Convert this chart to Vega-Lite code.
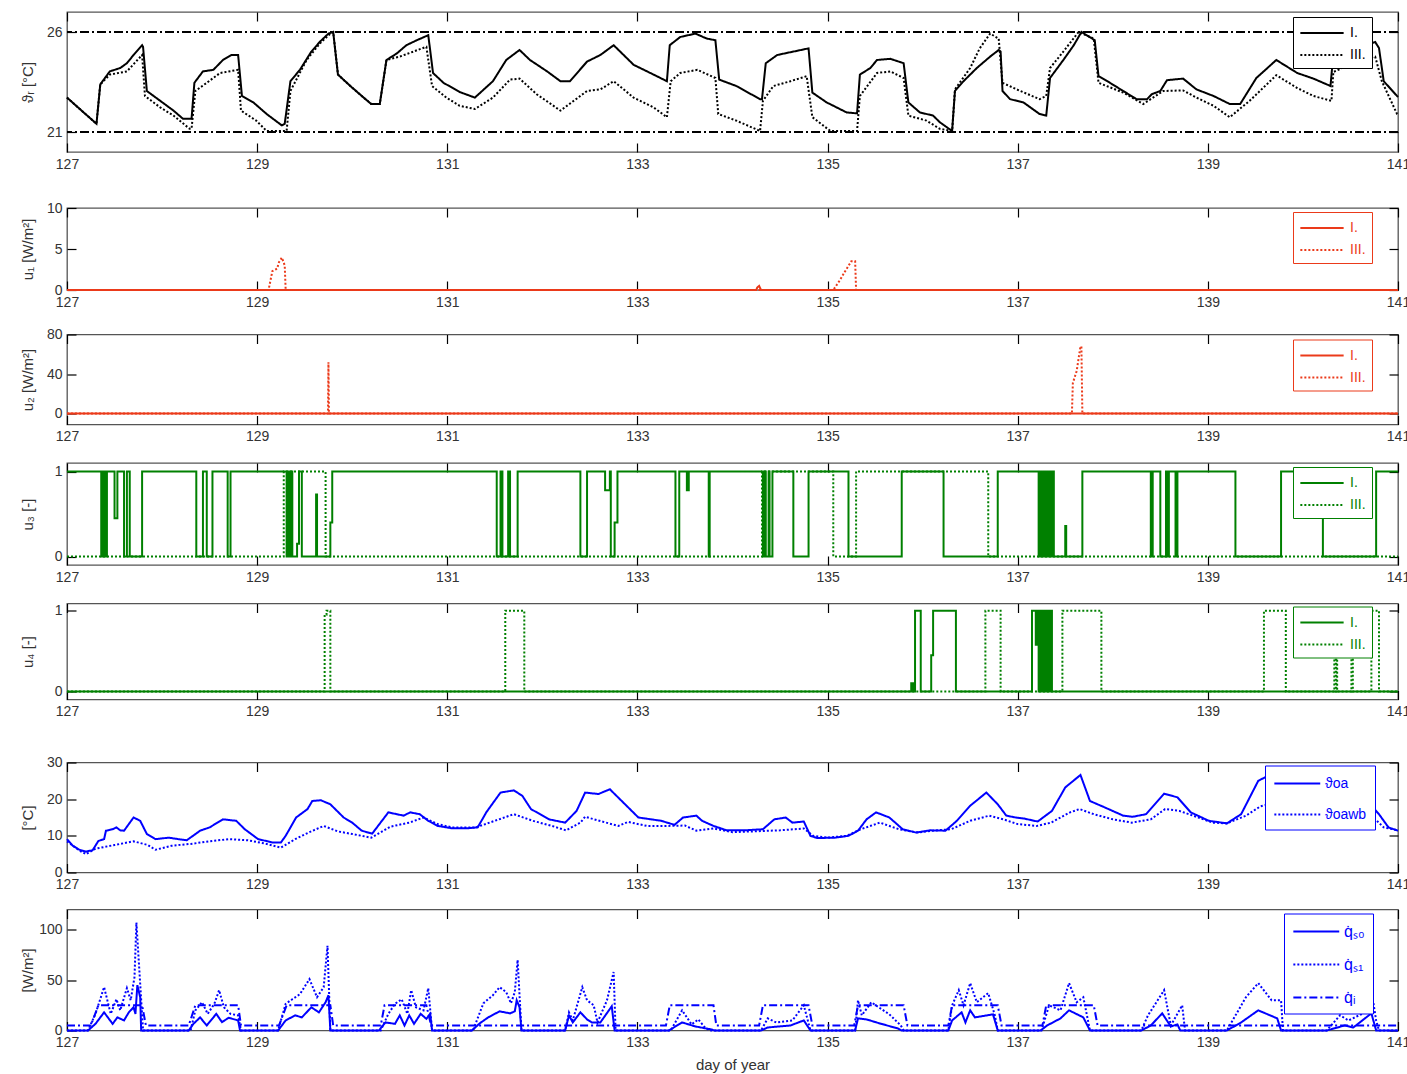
{
"$schema": "https://vega.github.io/schema/vega-lite/v6.json",
"background": "white",
"padding": {"left": 19, "top": 10, "right": 0, "bottom": 0},
"config": {
 "font": "Liberation Sans",
 "view": {"stroke": "#555", "strokeWidth": 1.3},
 "axis": {"grid": false, "domain": false, "labelFont": "Liberation Sans", "labelFontSize": 14, "labelColor": "#333", "tickColor": "#000", "tickSize": -9, "tickWidth": 1.2, "labelPadding": 14, "titleFont": "Liberation Sans", "titleFontSize": 15, "titleFontWeight": "normal", "titleColor": "#333"},
 "axisX": {"labelFlush": false},
 "axisLeft": {"minExtent": 24, "maxExtent": 24, "titlePadding": 8},
 "axisBottom": {"titlePadding": 8},
 "legend": {"title": null, "orient": "none", "symbolType": "M-1,0H4", "symbolSize": 300, "symbolStrokeWidth": 2, "labelFont": "Liberation Sans", "labelFontSize": 14, "fillColor": "#ffffff", "padding": 6, "rowPadding": 5, "labelOffset": 31}
},
"datasets": {
"tr": [
{"d":127.00,"v":22.72,"s":"I."},{"d":127.31,"v":21.41,"s":"I."},{"d":127.35,"v":23.38,"s":"I."},{"d":127.45,"v":24.03,"s":"I."},{"d":127.56,"v":24.2,"s":"I."},{"d":127.63,"v":24.44,"s":"I."},{"d":127.70,"v":24.85,"s":"I."},{"d":127.79,"v":25.34,"s":"I."},{"d":127.80,"v":25.26,"s":"I."},{"d":127.84,"v":23.05,"s":"I."},{"d":127.98,"v":22.56,"s":"I."},{"d":128.12,"v":22.07,"s":"I."},{"d":128.22,"v":21.66,"s":"I."},{"d":128.31,"v":21.66,"s":"I."},{"d":128.34,"v":23.46,"s":"I."},{"d":128.43,"v":24.03,"s":"I."},{"d":128.54,"v":24.11,"s":"I."},{"d":128.64,"v":24.6,"s":"I."},{"d":128.73,"v":24.85,"s":"I."},{"d":128.80,"v":24.85,"s":"I."},{"d":128.84,"v":22.8,"s":"I."},{"d":128.96,"v":22.48,"s":"I."},{"d":129.10,"v":21.9,"s":"I."},{"d":129.26,"v":21.33,"s":"I."},{"d":129.29,"v":21.41,"s":"I."},{"d":129.35,"v":23.54,"s":"I."},{"d":129.45,"v":24.11,"s":"I."},{"d":129.57,"v":25.02,"s":"I."},{"d":129.66,"v":25.51,"s":"I."},{"d":129.75,"v":25.92,"s":"I."},{"d":129.80,"v":26.0,"s":"I."},{"d":129.85,"v":23.87,"s":"I."},{"d":129.98,"v":23.3,"s":"I."},{"d":130.12,"v":22.72,"s":"I."},{"d":130.20,"v":22.4,"s":"I."},{"d":130.29,"v":22.4,"s":"I."},{"d":130.36,"v":24.6,"s":"I."},{"d":130.47,"v":24.93,"s":"I."},{"d":130.57,"v":25.34,"s":"I."},{"d":130.68,"v":25.59,"s":"I."},{"d":130.80,"v":25.84,"s":"I."},{"d":130.85,"v":23.95,"s":"I."},{"d":130.96,"v":23.46,"s":"I."},{"d":131.13,"v":23.0,"s":"I."},{"d":131.29,"v":22.72,"s":"I."},{"d":131.48,"v":23.54,"s":"I."},{"d":131.62,"v":24.6,"s":"I."},{"d":131.76,"v":25.1,"s":"I."},{"d":131.87,"v":24.6,"s":"I."},{"d":132.05,"v":24.03,"s":"I."},{"d":132.19,"v":23.54,"s":"I."},{"d":132.29,"v":23.54,"s":"I."},{"d":132.47,"v":24.52,"s":"I."},{"d":132.61,"v":24.85,"s":"I."},{"d":132.75,"v":25.34,"s":"I."},{"d":132.96,"v":24.36,"s":"I."},{"d":133.17,"v":23.87,"s":"I."},{"d":133.31,"v":23.54,"s":"I."},{"d":133.34,"v":25.34,"s":"I."},{"d":133.45,"v":25.75,"s":"I."},{"d":133.61,"v":25.92,"s":"I."},{"d":133.73,"v":25.67,"s":"I."},{"d":133.82,"v":25.59,"s":"I."},{"d":133.86,"v":23.62,"s":"I."},{"d":134.04,"v":23.3,"s":"I."},{"d":134.29,"v":22.64,"s":"I."},{"d":134.31,"v":22.64,"s":"I."},{"d":134.35,"v":24.44,"s":"I."},{"d":134.47,"v":24.85,"s":"I."},{"d":134.64,"v":25.02,"s":"I."},{"d":134.80,"v":25.18,"s":"I."},{"d":134.84,"v":22.97,"s":"I."},{"d":134.99,"v":22.48,"s":"I."},{"d":135.20,"v":21.98,"s":"I."},{"d":135.31,"v":21.93,"s":"I."},{"d":135.34,"v":23.87,"s":"I."},{"d":135.45,"v":24.2,"s":"I."},{"d":135.52,"v":24.6,"s":"I."},{"d":135.66,"v":24.66,"s":"I."},{"d":135.80,"v":24.44,"s":"I."},{"d":135.85,"v":22.48,"s":"I."},{"d":135.97,"v":21.98,"s":"I."},{"d":136.11,"v":21.82,"s":"I."},{"d":136.18,"v":21.49,"s":"I."},{"d":136.31,"v":21.05,"s":"I."},{"d":136.34,"v":23.05,"s":"I."},{"d":136.43,"v":23.54,"s":"I."},{"d":136.57,"v":24.2,"s":"I."},{"d":136.71,"v":24.77,"s":"I."},{"d":136.80,"v":25.1,"s":"I."},{"d":136.82,"v":25.02,"s":"I."},{"d":136.84,"v":23.05,"s":"I."},{"d":136.92,"v":22.64,"s":"I."},{"d":137.06,"v":22.48,"s":"I."},{"d":137.23,"v":21.9,"s":"I."},{"d":137.30,"v":21.82,"s":"I."},{"d":137.34,"v":23.7,"s":"I."},{"d":137.48,"v":24.6,"s":"I."},{"d":137.59,"v":25.34,"s":"I."},{"d":137.67,"v":26.0,"s":"I."},{"d":137.81,"v":25.59,"s":"I."},{"d":137.85,"v":23.79,"s":"I."},{"d":137.97,"v":23.46,"s":"I."},{"d":138.11,"v":23.05,"s":"I."},{"d":138.25,"v":22.64,"s":"I."},{"d":138.36,"v":22.64,"s":"I."},{"d":138.41,"v":22.89,"s":"I."},{"d":138.50,"v":23.05,"s":"I."},{"d":138.57,"v":23.59,"s":"I."},{"d":138.74,"v":23.67,"s":"I."},{"d":138.88,"v":23.13,"s":"I."},{"d":139.06,"v":22.8,"s":"I."},{"d":139.23,"v":22.4,"s":"I."},{"d":139.34,"v":22.4,"s":"I."},{"d":139.51,"v":23.7,"s":"I."},{"d":139.72,"v":24.6,"s":"I."},{"d":139.94,"v":23.95,"s":"I."},{"d":140.11,"v":23.67,"s":"I."},{"d":140.29,"v":23.3,"s":"I."},{"d":140.32,"v":24.9,"s":"I."},{"d":140.55,"v":25.1,"s":"I."},{"d":140.70,"v":25.4,"s":"I."},{"d":140.76,"v":25.5,"s":"I."},{"d":140.80,"v":25.2,"s":"I."},{"d":140.85,"v":23.54,"s":"I."},{"d":140.99,"v":22.8,"s":"I."},{"d":141.00,"v":22.75,"s":"I."},
{"d":127.00,"v":22.72,"s":"III."},{"d":127.31,"v":21.41,"s":"III."},{"d":127.35,"v":23.38,"s":"III."},{"d":127.45,"v":23.87,"s":"III."},{"d":127.63,"v":24.03,"s":"III."},{"d":127.79,"v":24.85,"s":"III."},{"d":127.82,"v":22.8,"s":"III."},{"d":127.98,"v":22.23,"s":"III."},{"d":128.12,"v":21.82,"s":"III."},{"d":128.29,"v":21.16,"s":"III."},{"d":128.31,"v":21.16,"s":"III."},{"d":128.35,"v":23.05,"s":"III."},{"d":128.47,"v":23.46,"s":"III."},{"d":128.61,"v":23.95,"s":"III."},{"d":128.80,"v":24.11,"s":"III."},{"d":128.83,"v":22.07,"s":"III."},{"d":128.99,"v":21.57,"s":"III."},{"d":129.10,"v":21.05,"s":"III."},{"d":129.31,"v":21.05,"s":"III."},{"d":129.35,"v":23.05,"s":"III."},{"d":129.52,"v":24.6,"s":"III."},{"d":129.66,"v":25.43,"s":"III."},{"d":129.77,"v":25.92,"s":"III."},{"d":129.80,"v":26.0,"s":"III."},{"d":129.85,"v":23.87,"s":"III."},{"d":129.98,"v":23.3,"s":"III."},{"d":130.12,"v":22.72,"s":"III."},{"d":130.20,"v":22.4,"s":"III."},{"d":130.29,"v":22.4,"s":"III."},{"d":130.36,"v":24.6,"s":"III."},{"d":130.50,"v":24.77,"s":"III."},{"d":130.78,"v":25.26,"s":"III."},{"d":130.84,"v":23.3,"s":"III."},{"d":130.99,"v":22.72,"s":"III."},{"d":131.13,"v":22.31,"s":"III."},{"d":131.29,"v":22.15,"s":"III."},{"d":131.48,"v":22.72,"s":"III."},{"d":131.66,"v":23.62,"s":"III."},{"d":131.76,"v":23.67,"s":"III."},{"d":131.94,"v":22.89,"s":"III."},{"d":132.19,"v":22.07,"s":"III."},{"d":132.47,"v":23.05,"s":"III."},{"d":132.61,"v":23.13,"s":"III."},{"d":132.75,"v":23.54,"s":"III."},{"d":132.96,"v":22.72,"s":"III."},{"d":133.17,"v":22.23,"s":"III."},{"d":133.31,"v":21.74,"s":"III."},{"d":133.35,"v":23.54,"s":"III."},{"d":133.45,"v":23.95,"s":"III."},{"d":133.63,"v":24.11,"s":"III."},{"d":133.82,"v":23.7,"s":"III."},{"d":133.85,"v":21.9,"s":"III."},{"d":134.04,"v":21.57,"s":"III."},{"d":134.29,"v":21.05,"s":"III."},{"d":134.32,"v":22.56,"s":"III."},{"d":134.43,"v":23.3,"s":"III."},{"d":134.61,"v":23.54,"s":"III."},{"d":134.78,"v":23.79,"s":"III."},{"d":134.84,"v":21.74,"s":"III."},{"d":135.03,"v":21.05,"s":"III."},{"d":135.31,"v":21.05,"s":"III."},{"d":135.34,"v":22.8,"s":"III."},{"d":135.52,"v":23.95,"s":"III."},{"d":135.66,"v":24.03,"s":"III."},{"d":135.80,"v":23.7,"s":"III."},{"d":135.85,"v":21.82,"s":"III."},{"d":136.04,"v":21.57,"s":"III."},{"d":136.18,"v":21.16,"s":"III."},{"d":136.31,"v":21.05,"s":"III."},{"d":136.34,"v":23.13,"s":"III."},{"d":136.50,"v":24.2,"s":"III."},{"d":136.60,"v":25.18,"s":"III."},{"d":136.71,"v":25.92,"s":"III."},{"d":136.80,"v":25.67,"s":"III."},{"d":136.84,"v":23.46,"s":"III."},{"d":136.99,"v":23.13,"s":"III."},{"d":137.23,"v":22.64,"s":"III."},{"d":137.30,"v":22.8,"s":"III."},{"d":137.34,"v":24.2,"s":"III."},{"d":137.48,"v":25.02,"s":"III."},{"d":137.64,"v":26.0,"s":"III."},{"d":137.80,"v":25.67,"s":"III."},{"d":137.85,"v":23.46,"s":"III."},{"d":138.11,"v":22.97,"s":"III."},{"d":138.32,"v":22.4,"s":"III."},{"d":138.53,"v":23.05,"s":"III."},{"d":138.74,"v":23.08,"s":"III."},{"d":138.88,"v":22.72,"s":"III."},{"d":139.06,"v":22.31,"s":"III."},{"d":139.23,"v":21.74,"s":"III."},{"d":139.44,"v":22.56,"s":"III."},{"d":139.72,"v":23.84,"s":"III."},{"d":139.94,"v":23.2,"s":"III."},{"d":140.11,"v":22.8,"s":"III."},{"d":140.30,"v":22.56,"s":"III."},{"d":140.32,"v":24.0,"s":"III."},{"d":140.60,"v":24.6,"s":"III."},{"d":140.76,"v":24.77,"s":"III."},{"d":140.83,"v":23.54,"s":"III."},{"d":140.99,"v":21.9,"s":"III."},{"d":141.00,"v":21.85,"s":"III."}
],
"u1": [
{"d":127,"v":0,"s":"I."},{"d":134.25,"v":0,"s":"I."},{"d":134.26,"v":0.3,"s":"I."},{"d":134.28,"v":0.5,"s":"I."},{"d":134.3,"v":0,"s":"I."},{"d":141,"v":0,"s":"I."},
{"d":127,"v":0,"s":"III."},{"d":129.12,"v":0,"s":"III."},{"d":129.16,"v":2.3,"s":"III."},{"d":129.21,"v":2.6,"s":"III."},{"d":129.23,"v":3.4,"s":"III."},{"d":129.26,"v":3.95,"s":"III."},{"d":129.29,"v":3.0,"s":"III."},{"d":129.3,"v":0,"s":"III."},{"d":135.06,"v":0,"s":"III."},{"d":135.13,"v":1.2,"s":"III."},{"d":135.18,"v":2.2,"s":"III."},{"d":135.25,"v":3.5,"s":"III."},{"d":135.29,"v":3.5,"s":"III."},{"d":135.3,"v":0,"s":"III."},{"d":141,"v":0,"s":"III."}
],
"u2": [
{"d":127,"v":0,"s":"I."},{"d":141,"v":0,"s":"I."},
{"d":127,"v":0,"s":"III."},{"d":129.745,"v":0,"s":"III."},{"d":129.75,"v":52,"s":"III."},{"d":129.755,"v":0,"s":"III."},{"d":137.57,"v":0,"s":"III."},{"d":137.58,"v":31,"s":"III."},{"d":137.62,"v":43,"s":"III."},{"d":137.66,"v":68,"s":"III."},{"d":137.67,"v":68,"s":"III."},{"d":137.68,"v":0,"s":"III."},{"d":141,"v":0,"s":"III."}
],
"u3": [
{"d":127.0,"v":1,"s":"I."},{"d":127.36,"v":0,"s":"I."},{"d":127.38,"v":1,"s":"I."},{"d":127.40,"v":0,"s":"I."},{"d":127.42,"v":1,"s":"I."},{"d":127.50,"v":0.45,"s":"I."},{"d":127.53,"v":1,"s":"I."},{"d":127.60,"v":0,"s":"I."},{"d":127.63,"v":1,"s":"I."},{"d":127.66,"v":0,"s":"I."},{"d":127.79,"v":1,"s":"I."},{"d":128.36,"v":0,"s":"I."},{"d":128.43,"v":1,"s":"I."},{"d":128.47,"v":0,"s":"I."},{"d":128.53,"v":1,"s":"I."},{"d":128.69,"v":0,"s":"I."},{"d":128.72,"v":1,"s":"I."},{"d":129.31,"v":0,"s":"I."},{"d":129.33,"v":1,"s":"I."},{"d":129.34,"v":0,"s":"I."},{"d":129.36,"v":1,"s":"I."},{"d":129.37,"v":0,"s":"I."},{"d":129.42,"v":0.15,"s":"I."},{"d":129.44,"v":1,"s":"I."},{"d":129.47,"v":0,"s":"I."},{"d":129.62,"v":0.73,"s":"I."},{"d":129.63,"v":0,"s":"I."},{"d":129.77,"v":0.4,"s":"I."},{"d":129.79,"v":1,"s":"I."},{"d":131.52,"v":0,"s":"I."},{"d":131.56,"v":1,"s":"I."},{"d":131.58,"v":0,"s":"I."},{"d":131.64,"v":1,"s":"I."},{"d":131.66,"v":0,"s":"I."},{"d":131.74,"v":1,"s":"I."},{"d":132.40,"v":0,"s":"I."},{"d":132.47,"v":1,"s":"I."},{"d":132.66,"v":0.78,"s":"I."},{"d":132.71,"v":1,"s":"I."},{"d":132.72,"v":0,"s":"I."},{"d":132.76,"v":0.4,"s":"I."},{"d":132.79,"v":1,"s":"I."},{"d":133.40,"v":0,"s":"I."},{"d":133.44,"v":1,"s":"I."},{"d":133.52,"v":0.78,"s":"I."},{"d":133.54,"v":1,"s":"I."},{"d":133.75,"v":0,"s":"I."},{"d":133.76,"v":1,"s":"I."},{"d":134.32,"v":0,"s":"I."},{"d":134.34,"v":1,"s":"I."},{"d":134.35,"v":0,"s":"I."},{"d":134.38,"v":1,"s":"I."},{"d":134.39,"v":0,"s":"I."},{"d":134.42,"v":1,"s":"I."},{"d":134.64,"v":0,"s":"I."},{"d":134.80,"v":1,"s":"I."},{"d":135.22,"v":0,"s":"I."},{"d":135.78,"v":1,"s":"I."},{"d":136.22,"v":0,"s":"I."},{"d":136.79,"v":1,"s":"I."},{"d":137.22,"v":0,"s":"I."},{"d":137.23,"v":1,"s":"I."},{"d":137.245,"v":0,"s":"I."},{"d":137.255,"v":1,"s":"I."},{"d":137.27,"v":0,"s":"I."},{"d":137.28,"v":1,"s":"I."},{"d":137.29,"v":0,"s":"I."},{"d":137.30,"v":1,"s":"I."},{"d":137.31,"v":0,"s":"I."},{"d":137.32,"v":1,"s":"I."},{"d":137.33,"v":0,"s":"I."},{"d":137.35,"v":1,"s":"I."},{"d":137.36,"v":0,"s":"I."},{"d":137.37,"v":1,"s":"I."},{"d":137.38,"v":0,"s":"I."},{"d":137.50,"v":0.36,"s":"I."},{"d":137.51,"v":0,"s":"I."},{"d":137.68,"v":1,"s":"I."},{"d":138.40,"v":0,"s":"I."},{"d":138.42,"v":1,"s":"I."},{"d":138.50,"v":0,"s":"I."},{"d":138.56,"v":1,"s":"I."},{"d":138.58,"v":0,"s":"I."},{"d":138.59,"v":1,"s":"I."},{"d":138.66,"v":0,"s":"I."},{"d":138.68,"v":1,"s":"I."},{"d":139.29,"v":0,"s":"I."},{"d":139.77,"v":1,"s":"I."},{"d":140.21,"v":0,"s":"I."},{"d":140.77,"v":1,"s":"I."},{"d":141.0,"v":1,"s":"I."},
{"d":127.0,"v":0,"s":"III."},{"d":129.28,"v":1,"s":"III."},{"d":129.72,"v":0,"s":"III."},{"d":134.31,"v":1,"s":"III."},{"d":135.06,"v":0,"s":"III."},{"d":135.30,"v":1,"s":"III."},{"d":136.69,"v":0,"s":"III."},{"d":141.0,"v":0,"s":"III."}
],
"u4": [
{"d":127.0,"v":0,"s":"I."},{"d":135.88,"v":0.1,"s":"I."},{"d":135.90,"v":0,"s":"I."},{"d":135.92,"v":1,"s":"I."},{"d":135.98,"v":0,"s":"I."},{"d":136.09,"v":0.45,"s":"I."},{"d":136.11,"v":1,"s":"I."},{"d":136.35,"v":0,"s":"I."},{"d":137.15,"v":1,"s":"I."},{"d":137.19,"v":0.58,"s":"I."},{"d":137.20,"v":1,"s":"I."},{"d":137.22,"v":0,"s":"I."},{"d":137.225,"v":1,"s":"I."},{"d":137.24,"v":0,"s":"I."},{"d":137.245,"v":1,"s":"I."},{"d":137.26,"v":0,"s":"I."},{"d":137.265,"v":1,"s":"I."},{"d":137.28,"v":0,"s":"I."},{"d":137.285,"v":1,"s":"I."},{"d":137.30,"v":0,"s":"I."},{"d":137.305,"v":1,"s":"I."},{"d":137.32,"v":0,"s":"I."},{"d":137.325,"v":1,"s":"I."},{"d":137.34,"v":0,"s":"I."},{"d":137.345,"v":1,"s":"I."},{"d":137.36,"v":0,"s":"I."},{"d":141.0,"v":0,"s":"I."},
{"d":127.0,"v":0,"s":"III."},{"d":129.71,"v":0.95,"s":"III."},{"d":129.73,"v":1,"s":"III."},{"d":129.77,"v":0,"s":"III."},{"d":131.61,"v":1,"s":"III."},{"d":131.81,"v":0,"s":"III."},{"d":136.66,"v":1,"s":"III."},{"d":136.82,"v":0,"s":"III."},{"d":137.47,"v":1,"s":"III."},{"d":137.88,"v":0,"s":"III."},{"d":139.59,"v":1,"s":"III."},{"d":139.82,"v":0,"s":"III."},{"d":140.33,"v":1,"s":"III."},{"d":140.345,"v":0,"s":"III."},{"d":140.35,"v":1,"s":"III."},{"d":140.36,"v":0,"s":"III."},{"d":140.51,"v":1,"s":"III."},{"d":140.525,"v":0,"s":"III."},{"d":140.72,"v":1,"s":"III."},{"d":140.80,"v":0,"s":"III."},{"d":141.0,"v":0,"s":"III."}
],
"ta": [
{"d":127.00,"v":9.1,"s":"ϑoa"},{"d":127.06,"v":7.3,"s":"ϑoa"},{"d":127.13,"v":6.2,"s":"ϑoa"},{"d":127.20,"v":5.7,"s":"ϑoa"},{"d":127.27,"v":6.1,"s":"ϑoa"},{"d":127.33,"v":8.6,"s":"ϑoa"},{"d":127.39,"v":9.1,"s":"ϑoa"},{"d":127.41,"v":11.4,"s":"ϑoa"},{"d":127.48,"v":11.8,"s":"ϑoa"},{"d":127.52,"v":12.3,"s":"ϑoa"},{"d":127.56,"v":11.5,"s":"ϑoa"},{"d":127.60,"v":11.4,"s":"ϑoa"},{"d":127.70,"v":15.0,"s":"ϑoa"},{"d":127.77,"v":14.1,"s":"ϑoa"},{"d":127.84,"v":10.5,"s":"ϑoa"},{"d":127.93,"v":9.1,"s":"ϑoa"},{"d":128.07,"v":9.5,"s":"ϑoa"},{"d":128.17,"v":9.1,"s":"ϑoa"},{"d":128.26,"v":8.8,"s":"ϑoa"},{"d":128.40,"v":11.4,"s":"ϑoa"},{"d":128.50,"v":12.3,"s":"ϑoa"},{"d":128.64,"v":14.5,"s":"ϑoa"},{"d":128.78,"v":14.1,"s":"ϑoa"},{"d":128.87,"v":11.8,"s":"ϑoa"},{"d":129.01,"v":9.1,"s":"ϑoa"},{"d":129.16,"v":8.2,"s":"ϑoa"},{"d":129.25,"v":8.2,"s":"ϑoa"},{"d":129.30,"v":10.0,"s":"ϑoa"},{"d":129.41,"v":15.0,"s":"ϑoa"},{"d":129.53,"v":17.3,"s":"ϑoa"},{"d":129.58,"v":19.5,"s":"ϑoa"},{"d":129.67,"v":19.7,"s":"ϑoa"},{"d":129.77,"v":18.6,"s":"ϑoa"},{"d":129.91,"v":15.0,"s":"ϑoa"},{"d":130.00,"v":13.6,"s":"ϑoa"},{"d":130.10,"v":11.4,"s":"ϑoa"},{"d":130.21,"v":10.6,"s":"ϑoa"},{"d":130.38,"v":16.4,"s":"ϑoa"},{"d":130.47,"v":15.9,"s":"ϑoa"},{"d":130.54,"v":15.5,"s":"ϑoa"},{"d":130.61,"v":16.4,"s":"ϑoa"},{"d":130.71,"v":15.9,"s":"ϑoa"},{"d":130.80,"v":14.1,"s":"ϑoa"},{"d":130.90,"v":12.7,"s":"ϑoa"},{"d":131.04,"v":12.1,"s":"ϑoa"},{"d":131.23,"v":12.1,"s":"ϑoa"},{"d":131.32,"v":12.3,"s":"ϑoa"},{"d":131.41,"v":16.4,"s":"ϑoa"},{"d":131.56,"v":21.8,"s":"ϑoa"},{"d":131.70,"v":22.4,"s":"ϑoa"},{"d":131.79,"v":20.9,"s":"ϑoa"},{"d":131.88,"v":17.3,"s":"ϑoa"},{"d":132.07,"v":14.5,"s":"ϑoa"},{"d":132.24,"v":13.6,"s":"ϑoa"},{"d":132.36,"v":16.8,"s":"ϑoa"},{"d":132.45,"v":21.8,"s":"ϑoa"},{"d":132.59,"v":21.4,"s":"ϑoa"},{"d":132.71,"v":22.7,"s":"ϑoa"},{"d":132.87,"v":18.6,"s":"ϑoa"},{"d":133.01,"v":15.0,"s":"ϑoa"},{"d":133.25,"v":14.1,"s":"ϑoa"},{"d":133.39,"v":13.0,"s":"ϑoa"},{"d":133.48,"v":15.0,"s":"ϑoa"},{"d":133.62,"v":15.5,"s":"ϑoa"},{"d":133.68,"v":14.1,"s":"ϑoa"},{"d":133.80,"v":12.7,"s":"ϑoa"},{"d":133.94,"v":11.5,"s":"ϑoa"},{"d":134.13,"v":11.5,"s":"ϑoa"},{"d":134.32,"v":11.8,"s":"ϑoa"},{"d":134.44,"v":14.5,"s":"ϑoa"},{"d":134.56,"v":15.0,"s":"ϑoa"},{"d":134.63,"v":13.6,"s":"ϑoa"},{"d":134.75,"v":13.9,"s":"ϑoa"},{"d":134.82,"v":10.0,"s":"ϑoa"},{"d":134.89,"v":9.4,"s":"ϑoa"},{"d":135.08,"v":9.5,"s":"ϑoa"},{"d":135.22,"v":10.0,"s":"ϑoa"},{"d":135.32,"v":11.4,"s":"ϑoa"},{"d":135.41,"v":14.5,"s":"ϑoa"},{"d":135.51,"v":16.4,"s":"ϑoa"},{"d":135.65,"v":15.0,"s":"ϑoa"},{"d":135.79,"v":11.8,"s":"ϑoa"},{"d":135.93,"v":10.9,"s":"ϑoa"},{"d":136.08,"v":11.5,"s":"ϑoa"},{"d":136.24,"v":11.4,"s":"ϑoa"},{"d":136.36,"v":14.1,"s":"ϑoa"},{"d":136.50,"v":18.2,"s":"ϑoa"},{"d":136.67,"v":21.8,"s":"ϑoa"},{"d":136.79,"v":18.6,"s":"ϑoa"},{"d":136.88,"v":15.5,"s":"ϑoa"},{"d":136.98,"v":15.0,"s":"ϑoa"},{"d":137.07,"v":14.7,"s":"ϑoa"},{"d":137.21,"v":13.9,"s":"ϑoa"},{"d":137.36,"v":16.8,"s":"ϑoa"},{"d":137.50,"v":23.2,"s":"ϑoa"},{"d":137.66,"v":26.6,"s":"ϑoa"},{"d":137.76,"v":19.5,"s":"ϑoa"},{"d":137.92,"v":17.7,"s":"ϑoa"},{"d":138.11,"v":15.5,"s":"ϑoa"},{"d":138.21,"v":15.2,"s":"ϑoa"},{"d":138.35,"v":15.9,"s":"ϑoa"},{"d":138.54,"v":21.5,"s":"ϑoa"},{"d":138.68,"v":20.5,"s":"ϑoa"},{"d":138.82,"v":16.4,"s":"ϑoa"},{"d":139.01,"v":14.1,"s":"ϑoa"},{"d":139.20,"v":13.4,"s":"ϑoa"},{"d":139.35,"v":15.9,"s":"ϑoa"},{"d":139.53,"v":25.0,"s":"ϑoa"},{"d":139.62,"v":26.2,"s":"ϑoa"},{"d":139.78,"v":24.0,"s":"ϑoa"},{"d":139.95,"v":21.0,"s":"ϑoa"},{"d":140.20,"v":19.0,"s":"ϑoa"},{"d":140.45,"v":17.5,"s":"ϑoa"},{"d":140.62,"v":16.8,"s":"ϑoa"},{"d":140.72,"v":18.2,"s":"ϑoa"},{"d":140.80,"v":15.9,"s":"ϑoa"},{"d":140.90,"v":12.3,"s":"ϑoa"},{"d":141.00,"v":11.4,"s":"ϑoa"},
{"d":127.00,"v":8.5,"s":"ϑoawb"},{"d":127.13,"v":6.0,"s":"ϑoawb"},{"d":127.20,"v":5.0,"s":"ϑoawb"},{"d":127.30,"v":6.5,"s":"ϑoawb"},{"d":127.50,"v":7.5,"s":"ϑoawb"},{"d":127.70,"v":8.5,"s":"ϑoawb"},{"d":127.85,"v":7.5,"s":"ϑoawb"},{"d":127.93,"v":6.2,"s":"ϑoawb"},{"d":128.10,"v":7.3,"s":"ϑoawb"},{"d":128.30,"v":7.8,"s":"ϑoawb"},{"d":128.50,"v":8.5,"s":"ϑoawb"},{"d":128.70,"v":9.1,"s":"ϑoawb"},{"d":128.90,"v":8.8,"s":"ϑoawb"},{"d":129.10,"v":7.8,"s":"ϑoawb"},{"d":129.25,"v":6.8,"s":"ϑoawb"},{"d":129.40,"v":9.1,"s":"ϑoawb"},{"d":129.55,"v":11.0,"s":"ϑoawb"},{"d":129.70,"v":12.7,"s":"ϑoawb"},{"d":129.85,"v":11.2,"s":"ϑoawb"},{"d":130.00,"v":10.5,"s":"ϑoawb"},{"d":130.20,"v":9.5,"s":"ϑoawb"},{"d":130.40,"v":12.5,"s":"ϑoawb"},{"d":130.60,"v":13.6,"s":"ϑoawb"},{"d":130.75,"v":15.0,"s":"ϑoawb"},{"d":130.90,"v":13.2,"s":"ϑoawb"},{"d":131.05,"v":12.3,"s":"ϑoawb"},{"d":131.30,"v":12.3,"s":"ϑoawb"},{"d":131.50,"v":14.1,"s":"ϑoawb"},{"d":131.70,"v":15.9,"s":"ϑoawb"},{"d":131.90,"v":14.1,"s":"ϑoawb"},{"d":132.10,"v":12.7,"s":"ϑoawb"},{"d":132.25,"v":11.5,"s":"ϑoawb"},{"d":132.40,"v":13.6,"s":"ϑoawb"},{"d":132.45,"v":15.2,"s":"ϑoawb"},{"d":132.60,"v":14.1,"s":"ϑoawb"},{"d":132.80,"v":12.7,"s":"ϑoawb"},{"d":132.90,"v":13.8,"s":"ϑoawb"},{"d":133.10,"v":12.7,"s":"ϑoawb"},{"d":133.30,"v":12.7,"s":"ϑoawb"},{"d":133.50,"v":12.8,"s":"ϑoawb"},{"d":133.62,"v":11.4,"s":"ϑoawb"},{"d":133.80,"v":12.0,"s":"ϑoawb"},{"d":134.00,"v":11.0,"s":"ϑoawb"},{"d":134.20,"v":11.2,"s":"ϑoawb"},{"d":134.50,"v":11.5,"s":"ϑoawb"},{"d":134.75,"v":12.0,"s":"ϑoawb"},{"d":134.85,"v":10.0,"s":"ϑoawb"},{"d":135.00,"v":9.5,"s":"ϑoawb"},{"d":135.20,"v":10.0,"s":"ϑoawb"},{"d":135.35,"v":11.8,"s":"ϑoawb"},{"d":135.55,"v":13.6,"s":"ϑoawb"},{"d":135.75,"v":11.8,"s":"ϑoawb"},{"d":135.95,"v":10.9,"s":"ϑoawb"},{"d":136.10,"v":11.4,"s":"ϑoawb"},{"d":136.30,"v":11.8,"s":"ϑoawb"},{"d":136.50,"v":14.1,"s":"ϑoawb"},{"d":136.70,"v":15.5,"s":"ϑoawb"},{"d":136.85,"v":14.5,"s":"ϑoawb"},{"d":137.00,"v":13.2,"s":"ϑoawb"},{"d":137.20,"v":12.7,"s":"ϑoawb"},{"d":137.35,"v":13.6,"s":"ϑoawb"},{"d":137.55,"v":16.4,"s":"ϑoawb"},{"d":137.65,"v":17.3,"s":"ϑoawb"},{"d":137.80,"v":15.9,"s":"ϑoawb"},{"d":138.00,"v":14.5,"s":"ϑoawb"},{"d":138.20,"v":13.6,"s":"ϑoawb"},{"d":138.40,"v":14.5,"s":"ϑoawb"},{"d":138.55,"v":17.3,"s":"ϑoawb"},{"d":138.70,"v":16.8,"s":"ϑoawb"},{"d":138.90,"v":15.0,"s":"ϑoawb"},{"d":139.05,"v":13.6,"s":"ϑoawb"},{"d":139.20,"v":13.4,"s":"ϑoawb"},{"d":139.40,"v":15.5,"s":"ϑoawb"},{"d":139.55,"v":18.0,"s":"ϑoawb"},{"d":139.70,"v":19.0,"s":"ϑoawb"},{"d":140.00,"v":17.0,"s":"ϑoawb"},{"d":140.30,"v":16.0,"s":"ϑoawb"},{"d":140.60,"v":15.9,"s":"ϑoawb"},{"d":140.72,"v":15.5,"s":"ϑoawb"},{"d":140.85,"v":12.3,"s":"ϑoawb"},{"d":141.00,"v":11.5,"s":"ϑoawb"}
],
"q": [
{"d":127.00,"v":0,"s":"q̇ₛ₁"},{"d":127.22,"v":0,"s":"q̇ₛ₁"},{"d":127.30,"v":16.5,"s":"q̇ₛ₁"},{"d":127.39,"v":43,"s":"q̇ₛ₁"},{"d":127.46,"v":16.5,"s":"q̇ₛ₁"},{"d":127.52,"v":31,"s":"q̇ₛ₁"},{"d":127.56,"v":20,"s":"q̇ₛ₁"},{"d":127.63,"v":42,"s":"q̇ₛ₁"},{"d":127.67,"v":30,"s":"q̇ₛ₁"},{"d":127.71,"v":53,"s":"q̇ₛ₁"},{"d":127.73,"v":107,"s":"q̇ₛ₁"},{"d":127.77,"v":46,"s":"q̇ₛ₁"},{"d":127.80,"v":0,"s":"q̇ₛ₁"},{"d":128.30,"v":0,"s":"q̇ₛ₁"},{"d":128.35,"v":20,"s":"q̇ₛ₁"},{"d":128.42,"v":28,"s":"q̇ₛ₁"},{"d":128.48,"v":16.5,"s":"q̇ₛ₁"},{"d":128.55,"v":26.5,"s":"q̇ₛ₁"},{"d":128.60,"v":40,"s":"q̇ₛ₁"},{"d":128.65,"v":23,"s":"q̇ₛ₁"},{"d":128.72,"v":16.5,"s":"q̇ₛ₁"},{"d":128.80,"v":15,"s":"q̇ₛ₁"},{"d":128.83,"v":0,"s":"q̇ₛ₁"},{"d":129.22,"v":0,"s":"q̇ₛ₁"},{"d":129.30,"v":26.5,"s":"q̇ₛ₁"},{"d":129.37,"v":31,"s":"q̇ₛ₁"},{"d":129.45,"v":36,"s":"q̇ₛ₁"},{"d":129.55,"v":51,"s":"q̇ₛ₁"},{"d":129.63,"v":33,"s":"q̇ₛ₁"},{"d":129.70,"v":43,"s":"q̇ₛ₁"},{"d":129.74,"v":84,"s":"q̇ₛ₁"},{"d":129.77,"v":0,"s":"q̇ₛ₁"},{"d":130.30,"v":0,"s":"q̇ₛ₁"},{"d":130.38,"v":16.5,"s":"q̇ₛ₁"},{"d":130.45,"v":26.5,"s":"q̇ₛ₁"},{"d":130.52,"v":31,"s":"q̇ₛ₁"},{"d":130.58,"v":16.5,"s":"q̇ₛ₁"},{"d":130.62,"v":40,"s":"q̇ₛ₁"},{"d":130.67,"v":23,"s":"q̇ₛ₁"},{"d":130.75,"v":20,"s":"q̇ₛ₁"},{"d":130.80,"v":42,"s":"q̇ₛ₁"},{"d":130.84,"v":0,"s":"q̇ₛ₁"},{"d":131.27,"v":0,"s":"q̇ₛ₁"},{"d":131.38,"v":27,"s":"q̇ₛ₁"},{"d":131.48,"v":35,"s":"q̇ₛ₁"},{"d":131.55,"v":43,"s":"q̇ₛ₁"},{"d":131.62,"v":38,"s":"q̇ₛ₁"},{"d":131.67,"v":27,"s":"q̇ₛ₁"},{"d":131.71,"v":38,"s":"q̇ₛ₁"},{"d":131.74,"v":70,"s":"q̇ₛ₁"},{"d":131.78,"v":0,"s":"q̇ₛ₁"},{"d":132.24,"v":0,"s":"q̇ₛ₁"},{"d":132.28,"v":18,"s":"q̇ₛ₁"},{"d":132.32,"v":10,"s":"q̇ₛ₁"},{"d":132.42,"v":43,"s":"q̇ₛ₁"},{"d":132.47,"v":30,"s":"q̇ₛ₁"},{"d":132.54,"v":25,"s":"q̇ₛ₁"},{"d":132.58,"v":8,"s":"q̇ₛ₁"},{"d":132.68,"v":30,"s":"q̇ₛ₁"},{"d":132.75,"v":58,"s":"q̇ₛ₁"},{"d":132.77,"v":0,"s":"q̇ₛ₁"},{"d":133.35,"v":0,"s":"q̇ₛ₁"},{"d":133.47,"v":20,"s":"q̇ₛ₁"},{"d":133.57,"v":6,"s":"q̇ₛ₁"},{"d":133.64,"v":11,"s":"q̇ₛ₁"},{"d":133.71,"v":3,"s":"q̇ₛ₁"},{"d":133.76,"v":0,"s":"q̇ₛ₁"},{"d":134.30,"v":0,"s":"q̇ₛ₁"},{"d":134.37,"v":12,"s":"q̇ₛ₁"},{"d":134.46,"v":8,"s":"q̇ₛ₁"},{"d":134.63,"v":10,"s":"q̇ₛ₁"},{"d":134.75,"v":25,"s":"q̇ₛ₁"},{"d":134.82,"v":0,"s":"q̇ₛ₁"},{"d":135.29,"v":0,"s":"q̇ₛ₁"},{"d":135.32,"v":30,"s":"q̇ₛ₁"},{"d":135.36,"v":15,"s":"q̇ₛ₁"},{"d":135.46,"v":28,"s":"q̇ₛ₁"},{"d":135.65,"v":16,"s":"q̇ₛ₁"},{"d":135.77,"v":5,"s":"q̇ₛ₁"},{"d":135.80,"v":0,"s":"q̇ₛ₁"},{"d":136.27,"v":0,"s":"q̇ₛ₁"},{"d":136.31,"v":25,"s":"q̇ₛ₁"},{"d":136.38,"v":40,"s":"q̇ₛ₁"},{"d":136.43,"v":25,"s":"q̇ₛ₁"},{"d":136.50,"v":47,"s":"q̇ₛ₁"},{"d":136.57,"v":28,"s":"q̇ₛ₁"},{"d":136.69,"v":37,"s":"q̇ₛ₁"},{"d":136.76,"v":15,"s":"q̇ₛ₁"},{"d":136.79,"v":0,"s":"q̇ₛ₁"},{"d":137.25,"v":0,"s":"q̇ₛ₁"},{"d":137.33,"v":25,"s":"q̇ₛ₁"},{"d":137.45,"v":20,"s":"q̇ₛ₁"},{"d":137.54,"v":47,"s":"q̇ₛ₁"},{"d":137.62,"v":28,"s":"q̇ₛ₁"},{"d":137.69,"v":33,"s":"q̇ₛ₁"},{"d":137.76,"v":0,"s":"q̇ₛ₁"},{"d":138.30,"v":0,"s":"q̇ₛ₁"},{"d":138.37,"v":15,"s":"q̇ₛ₁"},{"d":138.54,"v":40,"s":"q̇ₛ₁"},{"d":138.61,"v":5,"s":"q̇ₛ₁"},{"d":138.73,"v":25,"s":"q̇ₛ₁"},{"d":138.76,"v":0,"s":"q̇ₛ₁"},{"d":139.20,"v":0,"s":"q̇ₛ₁"},{"d":139.40,"v":33,"s":"q̇ₛ₁"},{"d":139.53,"v":47,"s":"q̇ₛ₁"},{"d":139.67,"v":30,"s":"q̇ₛ₁"},{"d":139.77,"v":30,"s":"q̇ₛ₁"},{"d":139.79,"v":0,"s":"q̇ₛ₁"},{"d":140.25,"v":0,"s":"q̇ₛ₁"},{"d":140.39,"v":15,"s":"q̇ₛ₁"},{"d":140.48,"v":10,"s":"q̇ₛ₁"},{"d":140.70,"v":20,"s":"q̇ₛ₁"},{"d":140.72,"v":40,"s":"q̇ₛ₁"},{"d":140.77,"v":10,"s":"q̇ₛ₁"},{"d":140.80,"v":0,"s":"q̇ₛ₁"},{"d":141.00,"v":0,"s":"q̇ₛ₁"},
{"d":127.00,"v":5,"s":"q̇ᵢ"},{"d":127.25,"v":5,"s":"q̇ᵢ"},{"d":127.33,"v":25,"s":"q̇ᵢ"},{"d":127.79,"v":25,"s":"q̇ᵢ"},{"d":127.83,"v":5,"s":"q̇ᵢ"},{"d":128.28,"v":5,"s":"q̇ᵢ"},{"d":128.35,"v":25,"s":"q̇ᵢ"},{"d":128.80,"v":25,"s":"q̇ᵢ"},{"d":128.83,"v":5,"s":"q̇ᵢ"},{"d":129.23,"v":5,"s":"q̇ᵢ"},{"d":129.31,"v":25,"s":"q̇ᵢ"},{"d":129.77,"v":25,"s":"q̇ᵢ"},{"d":129.80,"v":5,"s":"q̇ᵢ"},{"d":130.30,"v":5,"s":"q̇ᵢ"},{"d":130.34,"v":25,"s":"q̇ᵢ"},{"d":130.78,"v":25,"s":"q̇ᵢ"},{"d":130.83,"v":5,"s":"q̇ᵢ"},{"d":133.30,"v":5,"s":"q̇ᵢ"},{"d":133.34,"v":25,"s":"q̇ᵢ"},{"d":133.80,"v":25,"s":"q̇ᵢ"},{"d":133.83,"v":5,"s":"q̇ᵢ"},{"d":134.28,"v":5,"s":"q̇ᵢ"},{"d":134.32,"v":25,"s":"q̇ᵢ"},{"d":134.80,"v":25,"s":"q̇ᵢ"},{"d":134.84,"v":5,"s":"q̇ᵢ"},{"d":135.28,"v":5,"s":"q̇ᵢ"},{"d":135.32,"v":25,"s":"q̇ᵢ"},{"d":135.80,"v":25,"s":"q̇ᵢ"},{"d":135.84,"v":5,"s":"q̇ᵢ"},{"d":136.27,"v":5,"s":"q̇ᵢ"},{"d":136.31,"v":25,"s":"q̇ᵢ"},{"d":136.79,"v":25,"s":"q̇ᵢ"},{"d":136.83,"v":5,"s":"q̇ᵢ"},{"d":137.26,"v":5,"s":"q̇ᵢ"},{"d":137.30,"v":25,"s":"q̇ᵢ"},{"d":137.80,"v":25,"s":"q̇ᵢ"},{"d":137.84,"v":5,"s":"q̇ᵢ"},{"d":141.00,"v":5,"s":"q̇ᵢ"},
{"d":127.00,"v":0,"s":"q̇ₛ₀"},{"d":127.22,"v":0,"s":"q̇ₛ₀"},{"d":127.30,"v":6.6,"s":"q̇ₛ₀"},{"d":127.39,"v":18,"s":"q̇ₛ₀"},{"d":127.48,"v":6.6,"s":"q̇ₛ₀"},{"d":127.53,"v":13,"s":"q̇ₛ₀"},{"d":127.60,"v":10,"s":"q̇ₛ₀"},{"d":127.65,"v":18,"s":"q̇ₛ₀"},{"d":127.70,"v":23,"s":"q̇ₛ₀"},{"d":127.72,"v":16.5,"s":"q̇ₛ₀"},{"d":127.74,"v":45,"s":"q̇ₛ₀"},{"d":127.77,"v":33,"s":"q̇ₛ₀"},{"d":127.78,"v":0,"s":"q̇ₛ₀"},{"d":128.28,"v":0,"s":"q̇ₛ₀"},{"d":128.33,"v":6.6,"s":"q̇ₛ₀"},{"d":128.40,"v":13,"s":"q̇ₛ₀"},{"d":128.47,"v":5,"s":"q̇ₛ₀"},{"d":128.57,"v":16.5,"s":"q̇ₛ₀"},{"d":128.63,"v":8.3,"s":"q̇ₛ₀"},{"d":128.70,"v":12.6,"s":"q̇ₛ₀"},{"d":128.80,"v":10,"s":"q̇ₛ₀"},{"d":128.82,"v":0,"s":"q̇ₛ₀"},{"d":129.22,"v":0,"s":"q̇ₛ₀"},{"d":129.30,"v":10,"s":"q̇ₛ₀"},{"d":129.40,"v":15,"s":"q̇ₛ₀"},{"d":129.47,"v":13,"s":"q̇ₛ₀"},{"d":129.57,"v":23,"s":"q̇ₛ₀"},{"d":129.65,"v":18,"s":"q̇ₛ₀"},{"d":129.72,"v":28,"s":"q̇ₛ₀"},{"d":129.75,"v":35,"s":"q̇ₛ₀"},{"d":129.77,"v":0,"s":"q̇ₛ₀"},{"d":130.28,"v":0,"s":"q̇ₛ₀"},{"d":130.35,"v":8,"s":"q̇ₛ₀"},{"d":130.45,"v":6.6,"s":"q̇ₛ₀"},{"d":130.50,"v":15,"s":"q̇ₛ₀"},{"d":130.55,"v":5,"s":"q̇ₛ₀"},{"d":130.60,"v":15,"s":"q̇ₛ₀"},{"d":130.65,"v":6.6,"s":"q̇ₛ₀"},{"d":130.72,"v":16.5,"s":"q̇ₛ₀"},{"d":130.78,"v":11.6,"s":"q̇ₛ₀"},{"d":130.82,"v":16.5,"s":"q̇ₛ₀"},{"d":130.84,"v":0,"s":"q̇ₛ₀"},{"d":131.26,"v":0,"s":"q̇ₛ₀"},{"d":131.34,"v":7,"s":"q̇ₛ₀"},{"d":131.43,"v":13,"s":"q̇ₛ₀"},{"d":131.55,"v":19,"s":"q̇ₛ₀"},{"d":131.66,"v":17,"s":"q̇ₛ₀"},{"d":131.71,"v":19,"s":"q̇ₛ₀"},{"d":131.73,"v":30,"s":"q̇ₛ₀"},{"d":131.76,"v":23,"s":"q̇ₛ₀"},{"d":131.78,"v":0,"s":"q̇ₛ₀"},{"d":132.24,"v":0,"s":"q̇ₛ₀"},{"d":132.28,"v":15,"s":"q̇ₛ₀"},{"d":132.32,"v":8,"s":"q̇ₛ₀"},{"d":132.40,"v":18,"s":"q̇ₛ₀"},{"d":132.47,"v":11,"s":"q̇ₛ₀"},{"d":132.52,"v":8,"s":"q̇ₛ₀"},{"d":132.61,"v":8,"s":"q̇ₛ₀"},{"d":132.73,"v":24,"s":"q̇ₛ₀"},{"d":132.76,"v":0,"s":"q̇ₛ₀"},{"d":133.33,"v":0,"s":"q̇ₛ₀"},{"d":133.47,"v":8,"s":"q̇ₛ₀"},{"d":133.61,"v":4,"s":"q̇ₛ₀"},{"d":133.78,"v":1,"s":"q̇ₛ₀"},{"d":133.81,"v":0,"s":"q̇ₛ₀"},{"d":134.30,"v":0,"s":"q̇ₛ₀"},{"d":134.37,"v":3,"s":"q̇ₛ₀"},{"d":134.61,"v":5,"s":"q̇ₛ₀"},{"d":134.75,"v":10,"s":"q̇ₛ₀"},{"d":134.82,"v":0,"s":"q̇ₛ₀"},{"d":135.29,"v":0,"s":"q̇ₛ₀"},{"d":135.32,"v":12,"s":"q̇ₛ₀"},{"d":135.41,"v":11,"s":"q̇ₛ₀"},{"d":135.55,"v":7,"s":"q̇ₛ₀"},{"d":135.74,"v":2,"s":"q̇ₛ₀"},{"d":135.78,"v":0,"s":"q̇ₛ₀"},{"d":136.27,"v":0,"s":"q̇ₛ₀"},{"d":136.31,"v":10,"s":"q̇ₛ₀"},{"d":136.41,"v":18,"s":"q̇ₛ₀"},{"d":136.45,"v":8,"s":"q̇ₛ₀"},{"d":136.50,"v":20,"s":"q̇ₛ₀"},{"d":136.55,"v":13,"s":"q̇ₛ₀"},{"d":136.74,"v":16,"s":"q̇ₛ₀"},{"d":136.79,"v":0,"s":"q̇ₛ₀"},{"d":137.24,"v":0,"s":"q̇ₛ₀"},{"d":137.31,"v":5,"s":"q̇ₛ₀"},{"d":137.45,"v":12,"s":"q̇ₛ₀"},{"d":137.54,"v":20,"s":"q̇ₛ₀"},{"d":137.69,"v":13,"s":"q̇ₛ₀"},{"d":137.76,"v":0,"s":"q̇ₛ₀"},{"d":138.30,"v":0,"s":"q̇ₛ₀"},{"d":138.40,"v":5,"s":"q̇ₛ₀"},{"d":138.52,"v":17,"s":"q̇ₛ₀"},{"d":138.61,"v":4,"s":"q̇ₛ₀"},{"d":138.68,"v":6,"s":"q̇ₛ₀"},{"d":138.71,"v":0,"s":"q̇ₛ₀"},{"d":139.20,"v":0,"s":"q̇ₛ₀"},{"d":139.35,"v":8,"s":"q̇ₛ₀"},{"d":139.53,"v":20,"s":"q̇ₛ₀"},{"d":139.73,"v":12,"s":"q̇ₛ₀"},{"d":139.77,"v":0,"s":"q̇ₛ₀"},{"d":140.25,"v":0,"s":"q̇ₛ₀"},{"d":140.44,"v":5,"s":"q̇ₛ₀"},{"d":140.53,"v":3,"s":"q̇ₛ₀"},{"d":140.72,"v":17,"s":"q̇ₛ₀"},{"d":140.77,"v":0,"s":"q̇ₛ₀"},{"d":141.00,"v":0,"s":"q̇ₛ₀"}
]
},
"vconcat": [
{"vconcat": [
 {"width": 1331, "height": 140,
  "layer": [
   {"data": {"values": [{"y": 21}, {"y": 26}]}, "mark": {"type": "rule", "color": "#000", "strokeWidth": 1.8, "strokeDash": [9, 3, 2, 3]},
    "encoding": {"y": {"field": "y", "type": "quantitative", "scale": {"domain": [20, 27], "nice": false, "zero": false}, "axis": null}}},
   {"data": {"name": "tr"}, "mark": {"type": "line", "color": "#000", "strokeWidth": 2},
    "encoding": {
     "x": {"field": "d", "type": "quantitative", "scale": {"domain": [127, 141], "nice": false, "zero": false}, "axis": {"values": [127,129,131,133,135,137,139,141], "format": "d", "title": null}},
     "y": {"field": "v", "type": "quantitative", "scale": {"domain": [20, 27], "nice": false, "zero": false}, "axis": {"values": [21, 26], "format": "d", "title": "ϑᵣ [°C]"}},
     "strokeDash": {"field": "s", "type": "nominal", "scale": {"domain": ["I.", "III."], "range": [[1, 0], [2, 2]]}, "legend": {"legendX": 1226, "legendY": 5, "symbolStrokeColor": "#000", "labelColor": "#000", "strokeColor": "#000"}}
    }},
   {"data": {"name": "tr"}, "mark": {"type": "line", "strokeOpacity": 0},
    "encoding": {
     "x": {"field": "d", "type": "quantitative", "scale": {"domain": [127, 141], "nice": false, "zero": false}, "axis": {"orient": "top", "values": [127,129,131,133,135,137,139,141], "labels": false, "title": null}},
     "y": {"field": "v", "type": "quantitative", "scale": {"domain": [20, 27], "nice": false, "zero": false}, "axis": {"orient": "right", "values": [21, 26], "labels": false, "title": null}}
    }}
  ],
  "resolve": {"axis": {"x": "independent", "y": "independent"}}
 },
 {"vconcat": [
  {"width": 1331, "height": 82,
   "layer": [
    {"data": {"name": "u1"}, "mark": {"type": "line", "color": "#eb3a1a", "strokeWidth": 2},
     "encoding": {
      "x": {"field": "d", "type": "quantitative", "scale": {"domain": [127, 141], "nice": false, "zero": false}, "axis": {"values": [127,129,131,133,135,137,139,141], "format": "d", "title": null}},
      "y": {"field": "v", "type": "quantitative", "scale": {"domain": [0, 10], "nice": false, "zero": false}, "axis": {"values": [0, 5, 10], "format": "d", "title": "u₁ [W/m²]"}},
      "strokeDash": {"field": "s", "type": "nominal", "scale": {"domain": ["I.", "III."], "range": [[1, 0], [2, 2]]}, "legend": {"legendX": 1226, "legendY": 4, "symbolStrokeColor": "#eb3a1a", "labelColor": "#eb3a1a", "strokeColor": "#eb3a1a"}}
     }},
    {"data": {"name": "u1"}, "mark": {"type": "line", "strokeOpacity": 0},
     "encoding": {
      "x": {"field": "d", "type": "quantitative", "scale": {"domain": [127, 141], "nice": false, "zero": false}, "axis": {"orient": "top", "values": [127,129,131,133,135,137,139,141], "labels": false, "title": null}},
      "y": {"field": "v", "type": "quantitative", "scale": {"domain": [0, 10], "nice": false, "zero": false}, "axis": {"orient": "right", "values": [0, 5, 10], "labels": false, "title": null}}
     }}
   ],
   "resolve": {"axis": {"x": "independent", "y": "independent"}}
  },
  {"width": 1331, "height": 90,
   "layer": [
    {"data": {"name": "u2"}, "mark": {"type": "line", "color": "#eb3a1a", "strokeWidth": 2},
     "encoding": {
      "x": {"field": "d", "type": "quantitative", "scale": {"domain": [127, 141], "nice": false, "zero": false}, "axis": {"values": [127,129,131,133,135,137,139,141], "format": "d", "title": null}},
      "y": {"field": "v", "type": "quantitative", "scale": {"domain": [-11, 80], "nice": false, "zero": false}, "axis": {"values": [0, 40, 80], "format": "d", "title": "u₂ [W/m²]"}},
      "strokeDash": {"field": "s", "type": "nominal", "scale": {"domain": ["I.", "III."], "range": [[1, 0], [2, 2]]}, "legend": {"legendX": 1226, "legendY": 5, "symbolStrokeColor": "#eb3a1a", "labelColor": "#eb3a1a", "strokeColor": "#eb3a1a"}}
     }},
    {"data": {"name": "u2"}, "mark": {"type": "line", "strokeOpacity": 0},
     "encoding": {
      "x": {"field": "d", "type": "quantitative", "scale": {"domain": [127, 141], "nice": false, "zero": false}, "axis": {"orient": "top", "values": [127,129,131,133,135,137,139,141], "labels": false, "title": null}},
      "y": {"field": "v", "type": "quantitative", "scale": {"domain": [-11, 80], "nice": false, "zero": false}, "axis": {"orient": "right", "values": [0, 40, 80], "labels": false, "title": null}}
     }}
   ],
   "resolve": {"axis": {"x": "independent", "y": "independent"}}
  },
  {"width": 1331, "height": 102,
   "layer": [
    {"data": {"name": "u3"}, "mark": {"type": "line", "color": "#008000", "strokeWidth": 2, "interpolate": "step-after"},
     "encoding": {
      "x": {"field": "d", "type": "quantitative", "scale": {"domain": [127, 141], "nice": false, "zero": false}, "axis": {"values": [127,129,131,133,135,137,139,141], "format": "d", "title": null}},
      "y": {"field": "v", "type": "quantitative", "scale": {"domain": [-0.1, 1.1], "nice": false, "zero": false}, "axis": {"values": [0, 1], "format": "d", "title": "u₃ [-]"}},
      "strokeDash": {"field": "s", "type": "nominal", "scale": {"domain": ["I.", "III."], "range": [[1, 0], [2, 2]]}, "legend": {"legendX": 1226, "legendY": 4, "symbolStrokeColor": "#008000", "labelColor": "#008000", "strokeColor": "#008000"}}
     }},
    {"data": {"name": "u3"}, "mark": {"type": "line", "strokeOpacity": 0},
     "encoding": {
      "x": {"field": "d", "type": "quantitative", "scale": {"domain": [127, 141], "nice": false, "zero": false}, "axis": {"orient": "top", "values": [127,129,131,133,135,137,139,141], "labels": false, "title": null}},
      "y": {"field": "v", "type": "quantitative", "scale": {"domain": [-0.1, 1.1], "nice": false, "zero": false}, "axis": {"orient": "right", "values": [0, 1], "labels": false, "title": null}}
     }}
   ],
   "resolve": {"axis": {"x": "independent", "y": "independent"}}
  },
  {"width": 1331, "height": 96,
   "layer": [
    {"data": {"name": "u4"}, "mark": {"type": "line", "color": "#008000", "strokeWidth": 2, "interpolate": "step-after"},
     "encoding": {
      "x": {"field": "d", "type": "quantitative", "scale": {"domain": [127, 141], "nice": false, "zero": false}, "axis": {"values": [127,129,131,133,135,137,139,141], "format": "d", "title": null}},
      "y": {"field": "v", "type": "quantitative", "scale": {"domain": [-0.1, 1.09], "nice": false, "zero": false}, "axis": {"values": [0, 1], "format": "d", "title": "u₄ [-]"}},
      "strokeDash": {"field": "s", "type": "nominal", "scale": {"domain": ["I.", "III."], "range": [[1, 0], [2, 2]]}, "legend": {"legendX": 1226, "legendY": 3, "symbolStrokeColor": "#008000", "labelColor": "#008000", "strokeColor": "#008000"}}
     }},
    {"data": {"name": "u4"}, "mark": {"type": "line", "strokeOpacity": 0},
     "encoding": {
      "x": {"field": "d", "type": "quantitative", "scale": {"domain": [127, 141], "nice": false, "zero": false}, "axis": {"orient": "top", "values": [127,129,131,133,135,137,139,141], "labels": false, "title": null}},
      "y": {"field": "v", "type": "quantitative", "scale": {"domain": [-0.1, 1.09], "nice": false, "zero": false}, "axis": {"orient": "right", "values": [0, 1], "labels": false, "title": null}}
     }}
   ],
   "resolve": {"axis": {"x": "independent", "y": "independent"}}
  }
 ], "spacing": 16.5, "resolve": {"scale": {"strokeDash": "independent"}, "legend": {"strokeDash": "independent"}}}
], "spacing": 28, "resolve": {"scale": {"strokeDash": "independent"}, "legend": {"strokeDash": "independent"}}},
{"vconcat": [
 {"width": 1331, "height": 110,
  "layer": [
   {"data": {"name": "ta"}, "mark": {"type": "line", "color": "#0000ff", "strokeWidth": 2},
    "encoding": {
     "x": {"field": "d", "type": "quantitative", "scale": {"domain": [127, 141], "nice": false, "zero": false}, "axis": {"values": [127,129,131,133,135,137,139,141], "format": "d", "title": null}},
     "y": {"field": "v", "type": "quantitative", "scale": {"domain": [0, 30], "nice": false, "zero": false}, "axis": {"values": [0, 10, 20, 30], "format": "d", "title": "[°C]"}},
     "strokeDash": {"field": "s", "type": "nominal", "scale": {"domain": ["ϑoa", "ϑoawb"], "range": [[1, 0], [2, 2]]}, "legend": {"legendX": 1198, "legendY": 3, "symbolType": "M-1,0H4.3", "labelOffset": 32, "symbolStrokeColor": "#0000ff", "labelColor": "#0000ff", "strokeColor": "#0000ff", "rowPadding": 14, "padding": 8}}
    }},
   {"data": {"name": "ta"}, "mark": {"type": "line", "strokeOpacity": 0},
    "encoding": {
     "x": {"field": "d", "type": "quantitative", "scale": {"domain": [127, 141], "nice": false, "zero": false}, "axis": {"orient": "top", "values": [127,129,131,133,135,137,139,141], "labels": false, "title": null}},
     "y": {"field": "v", "type": "quantitative", "scale": {"domain": [0, 30], "nice": false, "zero": false}, "axis": {"orient": "right", "values": [0, 10, 20, 30], "labels": false, "title": null}}
    }}
  ],
  "resolve": {"axis": {"x": "independent", "y": "independent"}}
 },
 {"width": 1331, "height": 121,
  "layer": [
   {"data": {"name": "q"}, "mark": {"type": "line", "color": "#0000ff", "strokeWidth": 2},
    "encoding": {
     "x": {"field": "d", "type": "quantitative", "scale": {"domain": [127, 141], "nice": false, "zero": false}, "axis": {"values": [127,129,131,133,135,137,139,141], "format": "d", "title": "day of year"}},
     "y": {"field": "v", "type": "quantitative", "scale": {"domain": [0, 120], "nice": false, "zero": false}, "axis": {"values": [0, 50, 100], "format": "d", "title": "[W/m²]"}},
     "strokeDash": {"field": "s", "type": "nominal", "scale": {"domain": ["q̇ₛ₀", "q̇ₛ₁", "q̇ᵢ"], "range": [[1, 0], [2, 2], [8, 3, 2, 3]]}, "legend": {"legendX": 1217, "legendY": 4, "symbolType": "M-1,0H4.3", "labelOffset": 32, "symbolStrokeColor": "#0000ff", "labelColor": "#0000ff", "strokeColor": "#0000ff", "rowPadding": 15, "labelFontSize": 16, "padding": 8}}
    }},
   {"data": {"name": "q"}, "mark": {"type": "line", "strokeOpacity": 0},
    "encoding": {
     "x": {"field": "d", "type": "quantitative", "scale": {"domain": [127, 141], "nice": false, "zero": false}, "axis": {"orient": "top", "values": [127,129,131,133,135,137,139,141], "labels": false, "title": null}},
     "y": {"field": "v", "type": "quantitative", "scale": {"domain": [0, 120], "nice": false, "zero": false}, "axis": {"orient": "right", "values": [0, 50, 100], "labels": false, "title": null}}
    }}
  ],
  "resolve": {"axis": {"x": "independent", "y": "independent"}}
 }
], "spacing": 15, "resolve": {"scale": {"strokeDash": "independent"}, "legend": {"strokeDash": "independent"}}}
],
"spacing": 34.5,
"resolve": {"scale": {"strokeDash": "independent"}, "legend": {"strokeDash": "independent"}}
}
